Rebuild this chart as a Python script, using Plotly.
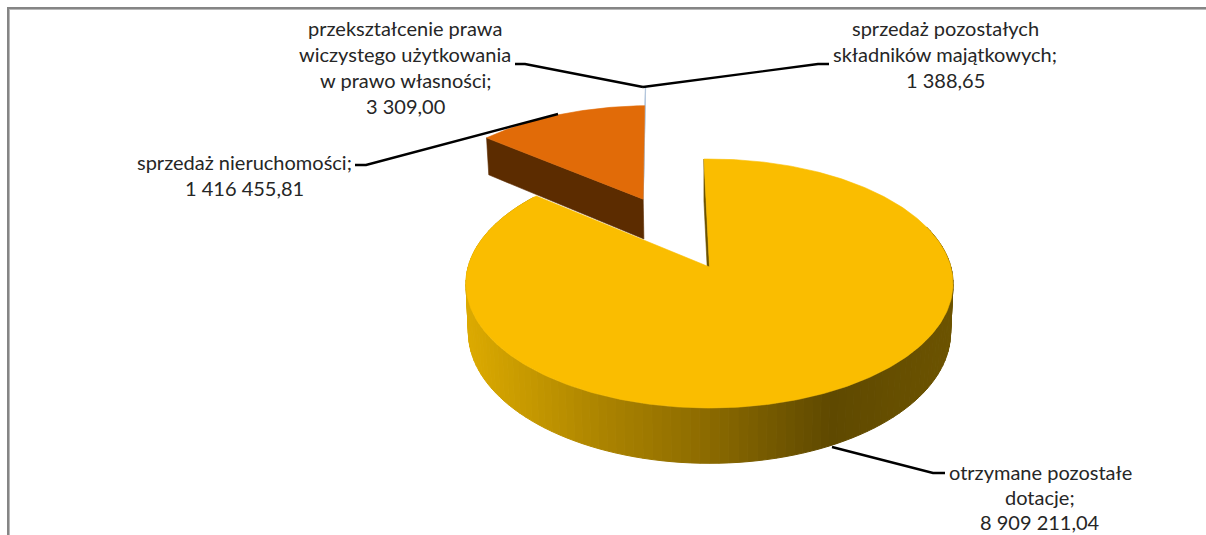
import numpy as np
import plotly.graph_objects as go

# ---- data ----
categories = ["otrzymane pozostałe dotacje", "sprzedaż nieruchomości",
              "przekształcenie prawa wieczystego użytkowania w prawo własności",
              "sprzedaż pozostałych składników majątkowych"]
values = [8909211.04, 1416455.81, 3309.00, 1388.65]
slice_colors = ["#fabd00", "#e16b08", "#b4c6dc", "#b4c6dc"]
wall_colors = ["#6b5200", "#5c2c00", "#8fa3bb", "#8fa3bb"]

label_lines = [
    ["przekształcenie prawa", "wiczystego użytkowania", "w prawo własności;", "3 309,00"],
    ["sprzedaż pozostałych", "składników majątkowych;", "1 388,65"],
    ["sprzedaż nieruchomości;", "1 416 455,81"],
    ["otrzymane pozostałe", "dotacje;", "8 909 211,04"],
]
label_anchor = [(405, 28), (945, 28), (244, 162), (1040, 472)]
label_step = [26, 26, 26, 25]
leaders = [
    [(515, 64), (525, 64), (643, 87)],
    [(643, 87), (818, 64), (829, 64)],
    [(558, 114), (366, 165), (355, 165)],
    [(832, 447), (933, 473), (945, 473)],
]

# ---- projection of the tilted pie ----
AX, AY = 709.5, 267.0      # apex of the pie on screen
R, r, k = 241.4, 122.3, 0.1325
START = -1.5               # first slice angle, degrees clockwise from the top
EXPLODE = 0.668


def project(u, v):
    w = 1 + k * v
    return AX + R * u / w, AY - r * v / w


def sector(t0, t1, du=0.0, dv=0.0, rho=1.0, n=200):
    th = np.radians(np.linspace(t0, t1, n))
    u = np.concatenate([[du], du + rho * np.sin(th), [du]])
    v = np.concatenate([[dv], dv + rho * np.cos(th), [dv]])
    return project(u, v)


def drop(x, y, v, depth):
    w = 1 + k * v
    return AX + (x - AX) * 0.99, y + depth / w


def wall_color(px):
    xs = [466, 600, 700, 830, 953]
    rs = [220, 172, 142, 95, 108]
    gs = [170, 132, 108, 73, 83]
    return f"rgb({np.interp(px, xs, rs):.0f},{np.interp(px, xs, gs):.0f},0)"


fig = go.Figure()


def poly(x, y, color, lw=0.6):
    fig.add_trace(go.Scatter(x=list(x), y=list(y), mode="lines", fill="toself",
                             fillcolor=color, line=dict(color=color, width=lw),
                             hoverinfo="skip", showlegend=False))


total = sum(values)
sweeps = [val / total * 360 for val in values]
edges = START + np.cumsum([0] + sweeps)

# offset shared by the pulled-out slices
mid = np.radians((edges[1] + edges[2]) / 2)
du, dv = EXPLODE * np.sin(mid), EXPLODE * np.cos(mid)

# the two tiny slices: thin spikes rising behind the pulled-out slice
for i in (3, 2):
    x, y = sector(edges[i], edges[i + 1], du, dv, rho=1.225, n=4)
    poly(x, y, slice_colors[i], 0.8)

# pulled-out slice: radial wall, then its face
ORANGE_DEPTH = 43
th = np.radians(edges[1])
ue, ve = du + np.sin(th), dv + np.cos(th)
x0, y0 = project(du, dv)
x1, y1 = project(ue, ve)
bx0, by0 = drop(x0, y0, dv, ORANGE_DEPTH)
bx1, by1 = drop(x1, y1, ve, ORANGE_DEPTH)
poly([x0, x1, bx1, bx0, x0], [y0, y1, by1, by0, y0], wall_colors[1])
x, y = sector(edges[1], edges[2], du, dv)
poly(x, y, slice_colors[1])

# main slice: outer wall in shaded bands
MAIN_DEPTH = 48
band = np.arange(70, edges[1] + 2, 2.0)
band = band[band <= edges[1]]
for a, b in zip(band[:-1], band[1:]):
    ta, tb = np.radians([a, b])
    ua, va, ub, vb = np.sin(ta), np.cos(ta), np.sin(tb), np.cos(tb)
    xa, ya = project(ua, va)
    xb, yb = project(ub, vb)
    xa2, ya2 = drop(xa, ya, va, MAIN_DEPTH)
    xb2, yb2 = drop(xb, yb, vb, MAIN_DEPTH)
    poly([xa, xb, xb2, xa2, xa], [ya, yb, yb2, ya2, ya], wall_color((xa + xb) / 2), 1)

# main slice: wall along its first radial edge, visible in the gap
ts = np.radians(edges[0])
us, vs = np.sin(ts), np.cos(ts)
xs0, ys0 = project(us, vs)
xs1, ys1 = drop(xs0, ys0, vs, MAIN_DEPTH)
xa0, ya0 = drop(AX, AY, 0.0, MAIN_DEPTH)
poly([AX, xs0, xs1, xa0, AX], [AY, ys0, ys1, ya0, AY], wall_colors[0])

# main slice: face
x, y = sector(edges[0], edges[1], n=400)
poly(x, y, slice_colors[0])

# ---- leaders ----
shapes = []
for pts in leaders:
    path = "M " + " L ".join(f"{px},{py}" for px, py in pts)
    shapes.append(dict(type="path", path=path, xref="x", yref="y",
                       line=dict(color="#000000", width=2.4)))

# ---- frame (open on the right and at the bottom) ----
for x0f, y0f, x1f, y1f, col in [
    (7, 7, 1206, 9, "#858585"), (7, 9, 1206, 10, "#b8b8b8"),
    (7, 7, 9, 535, "#858585"), (9, 9, 10, 535, "#b8b8b8"),
]:
    shapes.append(dict(type="rect", x0=x0f, y0=y0f, x1=x1f, y1=y1f, xref="x", yref="y",
                       fillcolor=col, line=dict(width=0)))

# ---- labels ----
annotations = []
for lines, (cx, cy), step in zip(label_lines, label_anchor, label_step):
    for j, line in enumerate(lines):
        annotations.append(dict(x=cx, y=cy + j * step, text=line, xref="x", yref="y",
                                showarrow=False, xanchor="center", yanchor="middle",
                                font=dict(family="Lato", size=20, color="#262626")))

fig.update_layout(
    width=1206, height=535, margin=dict(l=0, r=0, t=0, b=0),
    paper_bgcolor="white", plot_bgcolor="white", showlegend=False,
    xaxis=dict(range=[0, 1206], visible=False, fixedrange=True),
    yaxis=dict(range=[535, 0], visible=False, fixedrange=True),
    shapes=shapes, annotations=annotations,
)
fig.write_html("out.html", config={"displayModeBar": False},
               post_script="document.body.style.margin='0';document.body.style.overflow='hidden';")
